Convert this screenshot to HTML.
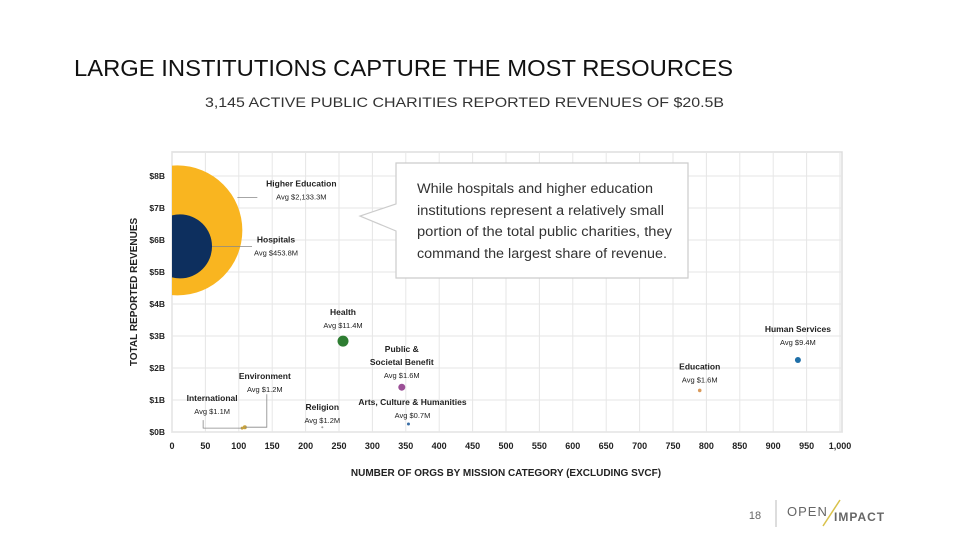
<!DOCTYPE html>
<html><head><meta charset="utf-8"><style>
body{margin:0;width:960px;height:540px;background:#fff;overflow:hidden;font-family:"Liberation Sans",sans-serif;}
svg{position:absolute;left:0;top:0}
</style></head><body>
<svg width="960" height="540" viewBox="0 0 960 540">
<text x="74" y="76" font-size="23" fill="#111" textLength="659" lengthAdjust="spacingAndGlyphs">LARGE INSTITUTIONS CAPTURE THE MOST RESOURCES</text>
<text x="205" y="107" font-size="14" fill="#333" textLength="519" lengthAdjust="spacingAndGlyphs">3,145 ACTIVE PUBLIC CHARITIES REPORTED REVENUES OF $20.5B</text>
<g id="grid"></g>
<g id="plot"></g>
<g id="labels" font-size="8.5" fill="#222"></g>
<g>
<path d="M396,163 H688 V278 H396 V231 L360,216 L396,204 Z" fill="#fff" stroke="#ccc" stroke-width="1.2"/>
<text x="417" y="193" font-size="13.5" fill="#333" textLength="236" lengthAdjust="spacingAndGlyphs">While hospitals and higher education</text>
<text x="417" y="215" font-size="13.5" fill="#333" textLength="247" lengthAdjust="spacingAndGlyphs">institutions represent a relatively small</text>
<text x="417" y="236" font-size="13.5" fill="#333" textLength="255" lengthAdjust="spacingAndGlyphs">portion of the total public charities, they</text>
<text x="417" y="258" font-size="13.5" fill="#333" textLength="250" lengthAdjust="spacingAndGlyphs">command the largest share of revenue.</text>
</g>
<text transform="translate(137,292) rotate(-90)" font-size="10" font-weight="bold" fill="#222" text-anchor="middle">TOTAL REPORTED REVENUES</text>
<text x="506" y="476" font-size="10" font-weight="bold" fill="#222" text-anchor="middle">NUMBER OF ORGS BY MISSION CATEGORY (EXCLUDING SVCF)</text>
<text x="755" y="519" font-size="11" fill="#666" text-anchor="middle">18</text>
<line x1="776" y1="500" x2="776" y2="527" stroke="#bbb"/>
<g>
<text x="787" y="516" font-size="13" fill="#666" letter-spacing="1">OPEN</text>
<line x1="823" y1="526" x2="840" y2="500" stroke="#d9c24a" stroke-width="1.5"/>
<text x="834" y="521" font-size="12" font-weight="bold" fill="#666" letter-spacing="1">IMPACT</text>
</g>
</svg>
<script>
const categories=["Higher Education","Hospitals","Health","Public & Societal Benefit","Arts, Culture & Humanities","Religion","Environment","International","Education","Human Services"];
const orgCounts=[8,12,256,344,354,225,109,105,790,937];
const revenuesB=[6.3,5.8,2.84,1.4,0.25,0.15,0.15,0.12,1.3,2.25];
const avgLabels=["Avg $2,133.3M","Avg $453.8M","Avg $11.4M","Avg $1.6M","Avg $0.7M","Avg $1.2M","Avg $1.2M","Avg $1.1M","Avg $1.6M","Avg $9.4M"];
const colors=["#f9b520","#0d2f5e","#2e7d32","#9b4f96","#3a6ea5","#999","#c9a23a","#c9a23a","#d99a5b","#1f6fa8"];
const radii=[65,32,5.5,3.5,1.5,1,2,1.5,1.8,3];
const xTicks=[0,50,100,150,200,250,300,350,400,450,500,550,600,650,700,750,800,850,900,950,1000];
const yTicks=[0,1,2,3,4,5,6,7,8];
const X0=172,X1=840,YB=432,YPer=32;
const xs=v=>X0+(v/1000)*(X1-X0);
const ys=v=>YB-v*YPer;
const NS="http://www.w3.org/2000/svg";
function mk(tag,at,parent){const e=document.createElementNS(NS,tag);for(const k in at)e.setAttribute(k,at[k]);parent.appendChild(e);return e;}
const grid=document.getElementById('grid'),plot=document.getElementById('plot'),lab=document.getElementById('labels');
const frame=mk('rect',{x:X0,y:152,width:670,height:YB-152,fill:'none',stroke:'#ddd','stroke-width':1.5},grid);


xTicks.forEach(t=>{
 const l=mk('line',{x1:xs(t),x2:xs(t),y1:152,y2:YB,stroke:'#e6e6e6'},grid);
 
 
 const tx=mk('text',{x:xs(t),y:449,'font-size':9,'font-weight':'bold','text-anchor':'middle',fill:'#222'},grid);
 tx.textContent=t===1000?'1,000':t;
 
 
});
yTicks.forEach(t=>{
 const l=mk('line',{x1:X0,x2:842,y1:ys(t),y2:ys(t),stroke:'#e6e6e6'},grid);
 
 
 const tx=mk('text',{x:165,y:ys(t)+3,'font-size':8.5,'font-weight':'bold','text-anchor':'end',fill:'#222'},grid);
 tx.textContent='$'+t+'B';
 
 
});
const cp=mk('clipPath',{id:'cp'},plot);mk('rect',{x:X0,y:152,width:670,height:YB-152},cp);
categories.forEach((c,i)=>{
 const ci=mk('circle',{cx:xs(orgCounts[i]),cy:ys(revenuesB[i]),r:radii[i],fill:colors[i],'clip-path':'url(#cp)'},plot);
 
 
});
const lp=[[124,-44],[96,-4],[0,-26],[0,-22],[4,-19],[0,-17],[20,-48],[-30,-27],[0,-21],[0,-28]];
categories.forEach((c,i)=>{
 const px=xs(orgCounts[i])+lp[i][0],py=ys(revenuesB[i])+lp[i][1];
 const g=mk('g',{},lab);
 
 
 if(i===3){const a=mk('text',{x:px,y:py-13,'text-anchor':'middle','font-weight':'bold'},g);a.textContent='Public &';
  const b=mk('text',{x:px,y:py,'text-anchor':'middle','font-weight':'bold'},g);b.textContent='Societal Benefit';}
 else{const a=mk('text',{x:px,y:py,'text-anchor':'middle','font-weight':'bold'},g);a.textContent=c;}
 const s=mk('text',{x:px,y:py+13,'text-anchor':'middle','font-size':7.5},g);s.textContent=avgLabels[i];
});
const lead=(d)=>{const p=mk('path',{d:d,fill:'none',stroke:'#888','stroke-width':0.8},lab);};
lead(`M${xs(orgCounts[0])+60},${ys(revenuesB[0])-33} H${xs(orgCounts[0])+80}`);
lead(`M${xs(orgCounts[1])+32},${ys(revenuesB[1])} H${xs(orgCounts[1])+72}`);
lead(`M${xs(orgCounts[6])},${ys(revenuesB[6])} H${xs(orgCounts[6])+22} V${ys(revenuesB[6])-33}`);
lead(`M${xs(orgCounts[7])},${ys(revenuesB[7])} H${xs(orgCounts[7])-39} V${ys(revenuesB[7])-8}`);
</script>
</body></html>
